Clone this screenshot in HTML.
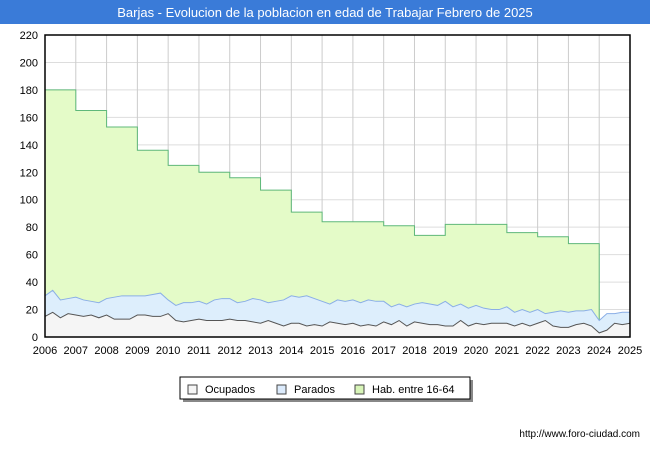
<!DOCTYPE html>
<html><head><meta charset="utf-8"><style>
body{margin:0;background:#fff;font-family:"Liberation Sans",sans-serif}
</style></head><body>
<svg width="650" height="450" xmlns="http://www.w3.org/2000/svg" id="svg">
<rect x="0" y="0" width="650" height="24" fill="#3a7bd8"/>
<text x="325" y="17" fill="#fff" font-size="13" text-anchor="middle">Barjas - Evolucion de la poblacion en edad de Trabajar Febrero de 2025</text>
<g id="grid"></g>
<g id="series"></g>
<rect x="45" y="35" width="585" height="302" fill="none" stroke="#000" stroke-width="1.5"/>
<g id="axes"></g>
<g>
<rect x="183" y="380" width="290" height="22" fill="#888"/>
<rect x="180" y="377" width="290" height="22" fill="#fff" stroke="#000"/>
<g><rect x="188" y="385" width="9" height="9" fill="#f5f5f5" stroke="#444"/><text x="205" y="393" font-size="11">Ocupados</text></g>
<g><rect x="277" y="385" width="9" height="9" fill="#dcebfc" stroke="#444"/><text x="294" y="393" font-size="11">Parados</text></g>
<g><rect x="355" y="385" width="9" height="9" fill="#d8f5b8" stroke="#444"/><text x="372" y="393" font-size="11">Hab. entre 16-64</text></g>
</g>
<text x="640" y="437" font-size="10" text-anchor="end">http://www.foro-ciudad.com</text>
</svg>
<script>
const years=[2006,2007,2008,2009,2010,2011,2012,2013,2014,2015,2016,2017,2018,2019,2020,2021,2022,2023,2024,2025];
const yTicks=[0,20,40,60,80,100,120,140,160,180,200,220];
const hab=[180,165,153,136,125,120,116,107,91,84,84,81,74,82,82,76,73,68];
const parados=[30,34,27,28,29,27,26,25,28,29,30,30,30,30,31,32,27,23,25,25,26,24,27,28,28,25,26,28,27,25,26,27,30,29,30,28,26,24,27,26,27,25,27,26,26,22,24,22,24,25,24,23,26,22,24,21,23,21,20,20,22,18,20,18,20,17,18,19,18,19,19,20,12,17,17,18,18];
const ocupados=[15,18,14,17,16,15,16,14,16,13,13,13,16,16,15,15,17,12,11,12,13,12,12,12,13,12,12,11,10,12,10,8,10,10,8,9,8,11,10,9,10,8,9,8,11,9,12,8,11,10,9,9,8,8,12,8,10,9,10,10,10,8,10,8,10,12,8,7,7,9,10,8,3,5,10,9,10];
const X0=45,X1=630,Y0=337,Y1=35;
const x=v=>X0+(v-2006)*(X1-X0)/19;
const y=v=>Y0-v*(Y0-Y1)/220;
const NS="http://www.w3.org/2000/svg";
function mk(t,a,p){const e=document.createElementNS(NS,t);for(const k in a)e.setAttribute(k,a[k]);p.appendChild(e);return e;}
const grid=document.getElementById('grid'),axes=document.getElementById('axes'),ser=document.getElementById('series');
yTicks.forEach(v=>{const l=mk('line',{x1:X0,x2:X1,y1:y(v),y2:y(v),stroke:'#ddd'},grid);

const t=mk('text',{x:38,y:y(v)+4,'font-size':11,'text-anchor':'end'},axes);t.textContent=v;
});
years.forEach(v=>{const l=mk('line',{x1:x(v),x2:x(v),y1:Y1,y2:Y0,stroke:'#ccc'},grid);

const t=mk('text',{x:x(v),y:354,'font-size':11,'text-anchor':'middle'},axes);t.textContent=v;
});
// hab step
let d='M'+x(2006)+','+y(0);
hab.forEach((v,i)=>{d+=' L'+x(2006+i)+','+y(v)+' L'+x(2007+i)+','+y(v);});
let dl=d.replace(/^M[^L]*L/,'M');
d+=' L'+x(2024)+','+y(0)+' Z';
const ha=mk('path',{d:d,fill:'#e4fbc8',stroke:'none'},ser);

const hl=mk('path',{d:dl+' L'+x(2024)+','+y(parados[72]),fill:'none',stroke:'#5fb87a'},ser);

function series(arr,fill,stroke,name){const n=arr.length-1;
let p=arr.map((v,i)=>x(2006+i*19/n)+','+y(v)).join(' L');
const a=mk('path',{d:'M'+x(2006)+','+y(0)+' L'+p+' L'+x(2025)+','+y(0)+' Z',fill:fill},ser);

const l=mk('path',{d:'M'+p,fill:'none',stroke:stroke},ser);
}
series(parados,'#ddeefc','#8aaee6','parados');
series(ocupados,'#f5f5f5','#555','ocupados');
</script>
</body></html>
